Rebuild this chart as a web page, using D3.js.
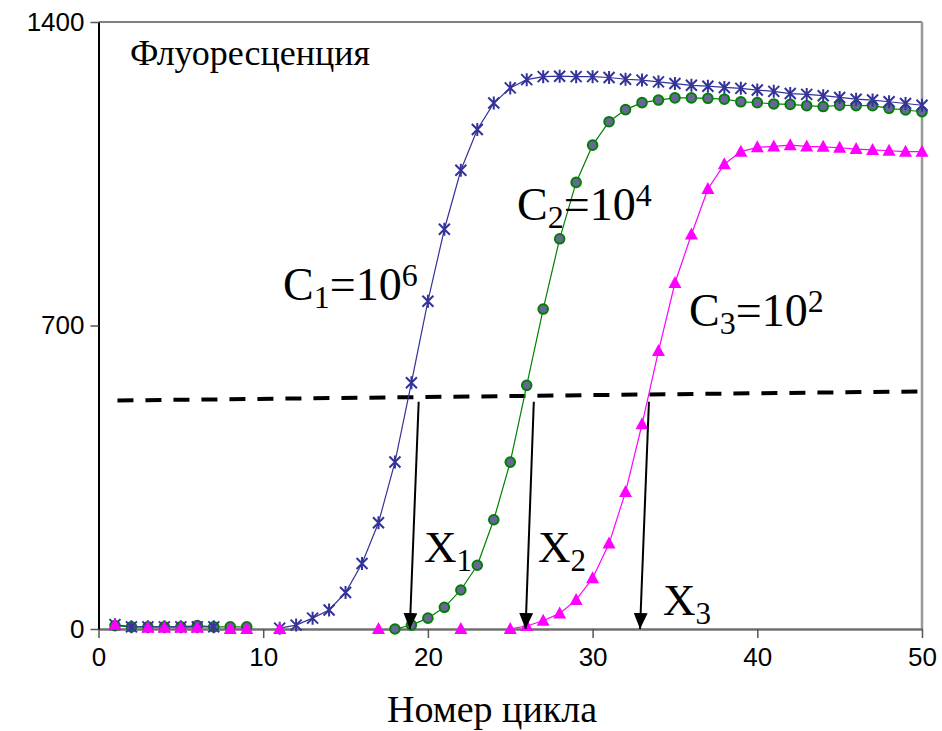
<!DOCTYPE html>
<html>
<head>
<meta charset="utf-8">
<script src="https://cdn.jsdelivr.net/npm/d3@7"></script>
<style>
  body { margin: 0; background: #fff; }
  svg { display: block; }
</style>
</head>
<body>
<div id="chart"></div>
<script>
// cycle numbers and fluorescence readings (null = point not shown)
const cycles = [1,2,3,4,5,6,7,8,9,10,11,12,13,14,15,16,17,18,19,20,21,22,23,24,25,
  26,27,28,29,30,31,32,33,34,35,36,37,38,39,40,41,42,43,44,45,46,47,48,49,50];

const c1Values = [10,5,5,5,5,5,5,null,null,null,2,9,25,44,84,151,245,385,568,756,
  922,1058,1152,1213,1248,1267,1274,1275,1274,1274,1272,1268,1266,1262,1258,1254,1252,1249,1247,1243,
  1240,1235,1233,1230,1226,1222,1220,1216,1212,1208];

const c2Values = [8,5,5,5,5,8,5,5,5,null,null,null,null,null,null,null,null,0,9,25,
  50,90,147,252,385,562,738,900,1030,1116,1170,1198,1214,1220,1225,1225,1224,1222,1216,1214,
  1211,1210,1207,1205,1208,1207,1207,1201,1197,1193];

const c3Values = [10,null,3,3,3,3,null,0,0,null,0,null,null,null,null,null,0,null,null,null,
  null,0,null,null,0,7,19,36,67,117,197,316,472,641,798,910,1015,1072,1101,1111,
  1113,1116,1113,1112,1110,1107,1105,1103,1101,1101];

const xTicks = [0, 10, 20, 30, 40, 50];
const yTicks = [0, 700, 1400];

// threshold line and the arrows dropped from it to the axis
const threshold = [{x: 1.15, y: 527}, {x: 50, y: 548}];
const arrows = [
  {x1: 19.44, y1: 524, x2: 18.9, y2: 0},
  {x1: 26.43, y1: 524, x2: 25.93, y2: 0},
  {x1: 33.42, y1: 524, x2: 32.88, y2: 0}
];

const W = 942, H = 731;
const svg = d3.select("#chart").append("svg")
  .attr("width", W).attr("height", H);

const x = d3.scaleLinear().domain([0, 50]).range([98.5, 922]);
const y = d3.scaleLinear().domain([0, 1400]).range([629, 22]);

svg.append("defs").append("marker")
  .attr("id", "head")
  .attr("viewBox", "0 0 16 14")
  .attr("refX", 16).attr("refY", 7)
  .attr("markerWidth", 16).attr("markerHeight", 14)
  .attr("markerUnits", "userSpaceOnUse")
  .attr("orient", "auto")
  .append("path").attr("d", "M0,0 L16,7 L0,14 Z").attr("fill", "#000");

// frame
svg.append("line").attr("x1", x(0)).attr("x2", x(50)).attr("y1", y(1400)).attr("y2", y(1400))
  .attr("stroke", "#808080").attr("stroke-width", 2);
svg.append("line").attr("x1", x(50)).attr("x2", x(50)).attr("y1", y(1400)).attr("y2", y(0))
  .attr("stroke", "#999").attr("stroke-width", 2.5);

// axes
const xAxis = svg.append("g")
  .attr("transform", `translate(0,${y(0)})`)
  .call(d3.axisBottom(x).tickValues(xTicks).tickSize(9).tickPadding(10).tickSizeOuter(0));
xAxis.select(".domain").attr("stroke", "#707070").attr("stroke-width", 2.5);
xAxis.selectAll(".tick line").attr("stroke", "#555").attr("stroke-width", 1.5);
xAxis.selectAll("text").attr("font-family", "Liberation Sans, Arial, sans-serif")
  .attr("font-size", 26).attr("fill", "#000");

const yAxis = svg.append("g")
  .attr("transform", `translate(${x(0)},0)`)
  .call(d3.axisLeft(y).tickValues(yTicks).tickFormat(d3.format("d"))
    .tickSize(8).tickPadding(6).tickSizeOuter(0));
yAxis.select(".domain").attr("stroke", "#000").attr("stroke-width", 2);
yAxis.selectAll(".tick line").attr("stroke", "#555").attr("stroke-width", 1.5);
yAxis.selectAll("text").attr("font-family", "Liberation Sans, Arial, sans-serif")
  .attr("font-size", 26).attr("fill", "#000");

// threshold
svg.append("path")
  .attr("d", d3.line().x(d => x(d.x)).y(d => y(d.y))(threshold))
  .attr("stroke", "#000").attr("stroke-width", 4)
  .attr("stroke-dasharray", "16,12").attr("fill", "none");

const series = [
  {name: "c2", values: c2Values, color: "#008000"},
  {name: "c1", values: c1Values, color: "#333399"},
  {name: "c3", values: c3Values, color: "#ff00ff"}
];

const line = d3.line()
  .defined(d => d.v !== null)
  .x(d => x(d.c)).y(d => y(d.v));

series.forEach(s => {
  let pts = cycles.map((c, i) => ({c: c, v: s.values[i]}));
  svg.append("path").attr("d", line(pts))
    .attr("fill", "none").attr("stroke", s.color).attr("stroke-width", 1.2);

  let shown = pts.filter(d => d.v !== null);
  let g = svg.append("g");
  if (s.name == "c2") {
    g.selectAll("circle").data(shown).enter().append("circle")
      .attr("cx", d => x(d.c)).attr("cy", d => y(d.v)).attr("r", 4.8)
      .attr("fill", "#666699").attr("stroke", "#008000").attr("stroke-width", 2);
  } else if (s.name == "c1") {
    g.selectAll("path").data(shown).enter().append("path")
      .attr("d", d => {
        let cx = x(d.c), cy = y(d.v), r = 5.5;
        return `M${cx-r},${cy-r}L${cx+r},${cy+r}M${cx-r},${cy+r}L${cx+r},${cy-r}M${cx},${cy-r-1}L${cx},${cy+r+1}`;
      })
      .attr("stroke", "#333399").attr("stroke-width", 2).attr("fill", "none");
  } else {
    g.selectAll("path").data(shown).enter().append("path")
      .attr("d", d => {
        let cx = x(d.c), cy = y(d.v);
        return `M${cx},${cy-7}L${cx+6.5},${cy+5}L${cx-6.5},${cy+5}Z`;
      })
      .attr("fill", "#ff00ff");
  }
});

// arrows
svg.selectAll(".arrow").data(arrows).enter().append("line")
  .attr("class", "arrow")
  .attr("x1", d => x(d.x1)).attr("y1", d => y(d.y1))
  .attr("x2", d => x(d.x2)).attr("y2", d => y(d.y2))
  .attr("stroke", "#000").attr("stroke-width", 2)
  .attr("marker-end", "url(#head)");

// texts
const serif = "Liberation Serif, Times New Roman, serif";

svg.append("text").attr("x", 130).attr("y", 65)
  .attr("font-family", serif).attr("font-size", 36).text("Флуоресценция");

svg.append("text").attr("x", 492).attr("y", 722)
  .attr("text-anchor", "middle")
  .attr("font-family", serif).attr("font-size", 38).text("Номер цикла");

const cLabels = [
  {px: 283, py: 300, sub: "1", sup: "6"},
  {px: 517, py: 220, sub: "2", sup: "4"},
  {px: 689, py: 326, sub: "3", sup: "2"}
];
cLabels.forEach(l => {
  let t = svg.append("text").attr("x", l.px).attr("y", l.py)
    .attr("font-family", serif).attr("font-size", 46);
  t.append("tspan").text("C");
  t.append("tspan").attr("font-size", 32).attr("dy", 8).text(l.sub);
  t.append("tspan").attr("dy", -8).text("=10");
  t.append("tspan").attr("font-size", 32).attr("dy", -14).text(l.sup);
});

const xLabels = [
  {px: 424, py: 562, sub: "1"},
  {px: 538, py: 562, sub: "2"},
  {px: 663, py: 615, sub: "3"}
];
xLabels.forEach(l => {
  let t = svg.append("text").attr("x", l.px).attr("y", l.py)
    .attr("font-family", serif).attr("font-size", 45);
  t.append("tspan").text("X");
  t.append("tspan").attr("font-size", 31).attr("dy", 9).text(l.sub);
});
</script>
</body>
</html>
